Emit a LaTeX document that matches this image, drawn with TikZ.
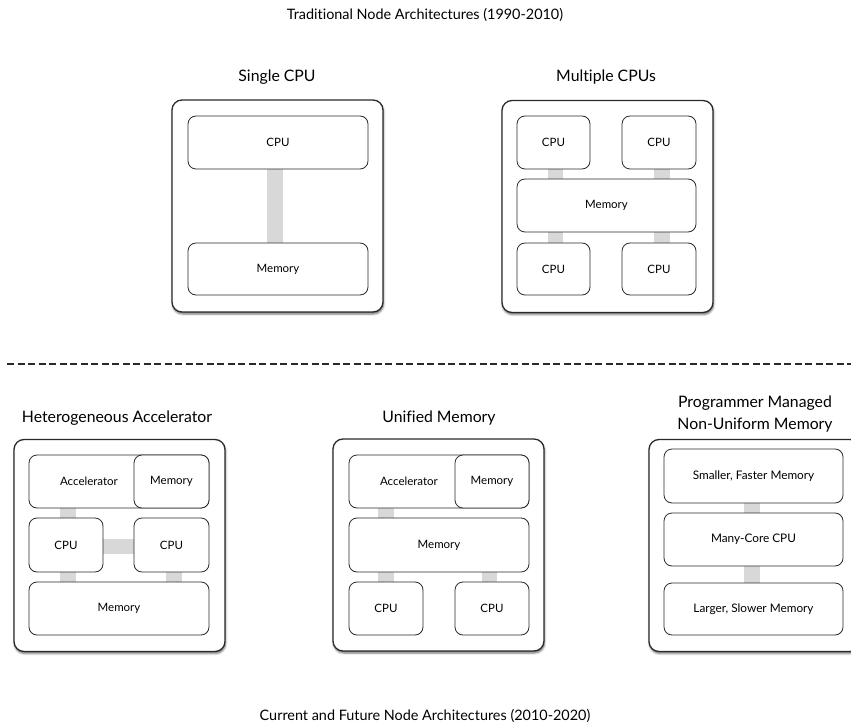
\documentclass[tikz,border=0pt]{standalone}
\usepackage{fontspec}
\setmainfont{Lato}[Ligatures={NoCommon,NoContextual}]
\usetikzlibrary{shadows.blur}
\definecolor{busgray}{HTML}{D8D8D8}
\definecolor{edgeink}{HTML}{2A2A2A}
\pgfdeclarelayer{boards}
\pgfdeclarelayer{buses}
\pgfsetlayers{boards,buses,main}
\begin{document}
\begin{tikzpicture}[x=1pt,y=-1pt,
  board/.style={draw=edgeink, line width=1.3pt, fill=white, rounded corners=10pt,
    minimum width=211pt, minimum height=212pt, inner sep=0pt,
    blur shadow={shadow xshift=0.6pt, shadow yshift=-2pt, shadow blur steps=4, shadow opacity=60}},
  unit/.style={draw=edgeink, line width=0.8pt, fill=white, rounded corners=8pt,
    inner sep=0pt, font=\fontsize{11.5}{13}\selectfont},
  small/.style={font=\fontsize{11.8}{13}\selectfont},
  bus/.style={draw=busgray, line width=15.5pt},
  heading/.style={font=\fontsize{15.8}{22}\selectfont, align=center},
  caption/.style={font=\fontsize{14.4}{16}\selectfont},
  divider/.style={draw=edgeink, line width=2pt, dash pattern=on 7pt off 3.5pt}]
\useasboundingbox (0,0) rectangle (851,727);

% section captions
\node[caption] (ttop) at (425,15) {Traditional Node Architectures (1990-2010)};
\node[caption] (tbot) at (425,716) {Current and Future Node Architectures (2010-2020)};

% separator between the two eras
\coordinate (dl) at (7,364);
\coordinate (dr) at (851,364);
\draw[divider] (dl) -- (dr);

% board headings
\node[heading] (h1) at (277,77) {Single CPU};
\node[heading] (h2) at (606,77) {Multiple CPUs};
\node[heading] (h3) at (117,418) {Heterogeneous Accelerator};
\node[heading] (h4) at (439,418) {Unified Memory};
\node[heading] (h5) at (755,414) {Programmer Managed\\Non-Uniform Memory};

% node boards
\begin{pgfonlayer}{boards}
\node[board] (b1) at (277.5,206) {};
\node[board] (b2) at (607.5,206.5) {};
\node[board] (b3) at (119.5,545.5) {};
\node[board] (b4) at (438.5,545) {};
\node[board] (b5) at (754.5,545.5) {};
\end{pgfonlayer}

% single CPU
\node[unit, minimum width=180pt, minimum height=53pt] (s-cpu) at (278,142.5) {CPU};
\node[unit, minimum width=180pt, minimum height=52pt] (s-mem) at (278,269) {Memory};

% multiple CPUs
\node[unit, minimum width=73pt, minimum height=53pt] (m-c1) at (553.5,142.5) {CPU};
\node[unit, minimum width=74pt, minimum height=53pt] (m-c2) at (659,142.5) {CPU};
\node[unit, minimum width=179pt, minimum height=53pt] (m-mem) at (606.5,205.5) {Memory};
\node[unit, minimum width=73pt, minimum height=52pt] (m-c3) at (553.5,269) {CPU};
\node[unit, minimum width=74pt, minimum height=52pt] (m-c4) at (659,269) {CPU};

% heterogeneous accelerator
\node[unit, minimum width=180pt, minimum height=53pt,
      label={[unit, draw=none, fill=none, xshift=-30pt]center:Accelerator}] (h-acc) at (119,481.5) {};
\node[unit, minimum width=75pt, minimum height=53pt] (h-am) at (171.5,481.5) {Memory};
\node[unit, minimum width=74pt, minimum height=54pt] (h-c1) at (66,545) {CPU};
\node[unit, minimum width=75pt, minimum height=54pt] (h-c2) at (171.5,545) {CPU};
\node[unit, minimum width=180pt, minimum height=53pt] (h-mem) at (119,608.5) {Memory};

% unified memory
\node[unit, minimum width=180pt, minimum height=53pt,
      label={[unit, draw=none, fill=none, xshift=-30pt]center:Accelerator}] (u-acc) at (439,481.5) {};
\node[unit, minimum width=74pt, minimum height=53pt] (u-am) at (492,481.5) {Memory};
\node[unit, minimum width=180pt, minimum height=54pt] (u-mem) at (439,545) {Memory};
\node[unit, minimum width=74pt, minimum height=53pt] (u-c1) at (386,608.5) {CPU};
\node[unit, minimum width=74pt, minimum height=53pt] (u-c2) at (492,608.5) {CPU};

% programmer managed non-uniform memory
\node[unit, small, minimum width=179pt, minimum height=54pt] (p-fast) at (753.5,476) {Smaller, Faster Memory};
\node[unit, small, minimum width=179pt, minimum height=53pt] (p-core) at (753.5,539.5) {Many-Core CPU};
\node[unit, small, minimum width=179pt, minimum height=52pt] (p-slow) at (753.5,609) {Larger, Slower Memory};

% interconnects
\begin{pgfonlayer}{buses}
\draw[bus] ([xshift=-3pt]s-cpu.south) -- ([xshift=-3pt]s-mem.north);

\draw[bus] ([xshift=2pt]m-c1.south) -- ([xshift=2pt]m-c1.south |- m-mem.north);
\draw[bus] ([xshift=3pt]m-c2.south) -- ([xshift=3pt]m-c2.south |- m-mem.north);
\draw[bus] ([xshift=2pt]m-c3.north |- m-mem.south) -- ([xshift=2pt]m-c3.north);
\draw[bus] ([xshift=3pt]m-c4.north |- m-mem.south) -- ([xshift=3pt]m-c4.north);

\draw[bus] ([xshift=2pt]h-c1.north |- h-acc.south) -- ([xshift=2pt]h-c1.north);
\draw[bus] ([xshift=2pt]h-c1.south) -- ([xshift=2pt]h-c1.south |- h-mem.north);
\draw[bus] ([xshift=2.5pt]h-c2.south) -- ([xshift=2.5pt]h-c2.south |- h-mem.north);
\draw[bus, line width=15pt] ([yshift=-1.5pt]h-c1.east) -- ([yshift=-1.5pt]h-c2.west);

\draw[bus] (u-c1.north |- u-acc.south) -- (u-c1.north |- u-mem.north);
\draw[bus] (u-c1.north |- u-mem.south) -- (u-c1.north);
\draw[bus] ([xshift=-2.5pt]u-c2.north |- u-mem.south) -- ([xshift=-2.5pt]u-c2.north);

\draw[bus] ([xshift=-1.5pt]p-fast.south) -- ([xshift=-1.5pt]p-core.north);
\draw[bus] ([xshift=-1.5pt]p-core.south) -- ([xshift=-1.5pt]p-slow.north);
\end{pgfonlayer}
\end{tikzpicture}
\end{document}
